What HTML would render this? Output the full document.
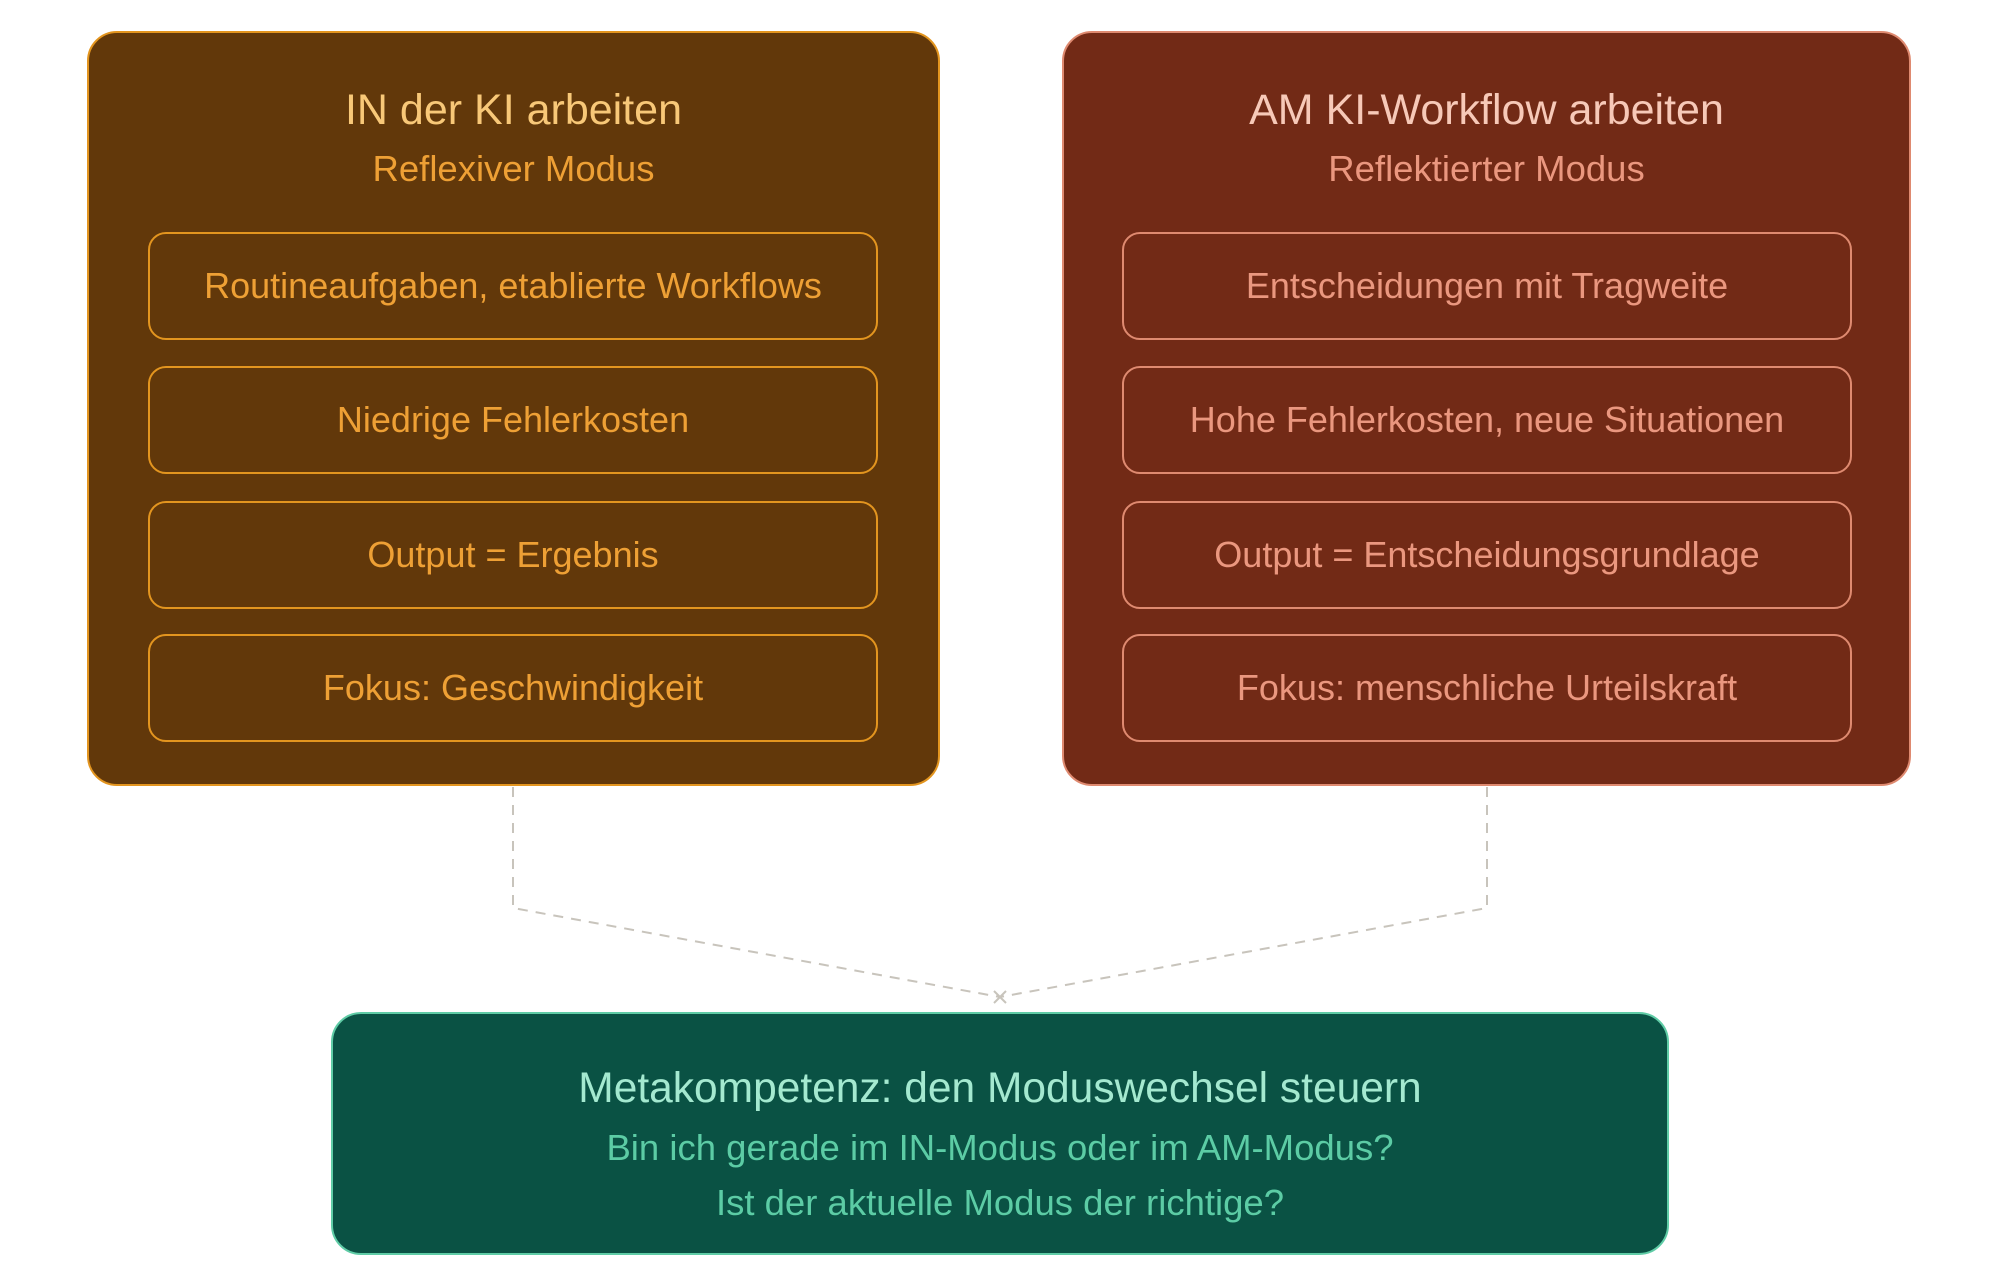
<!DOCTYPE html>
<html><head><meta charset="utf-8"><style>
html,body{margin:0;padding:0;background:#fff;width:2000px;height:1280px;overflow:hidden;font-family:"Liberation Sans",sans-serif}
.box{position:absolute;border-radius:30px;box-sizing:border-box}
.t{position:absolute;left:0;right:0;text-align:center;line-height:1;white-space:nowrap}
.item{position:absolute;border-radius:18px;box-sizing:border-box;display:flex;align-items:center;justify-content:center;font-size:36px}
</style></head><body>
<svg width="2000" height="1280" style="position:absolute;left:0;top:0">
<g stroke="#c8c4bc" stroke-width="2" stroke-dasharray="10,8" fill="none">
<path d="M513 787 L513 908 L1000 997"/>
<path d="M1487 787 L1487 908 L1000 997"/>
</g>
<path d="M994 991 L1006 1003 M1006 991 L994 1003" stroke="#c8c4bc" stroke-width="2"/>
</svg>

<div class="box" style="left:87px;top:31px;width:853px;height:755px;background:#62380a;border:2px solid #e3951f">
<div class="t" style="top:56px;font-size:43px;color:#f8c878">IN der KI arbeiten</div>
<div class="t" style="top:118px;font-size:36.5px;color:#eea035">Reflexiver Modus</div>
</div>
<div class="item" style="left:148px;top:232px;width:730px;height:108px;border:2px solid #e3951f;color:#eea035">Routineaufgaben, etablierte Workflows</div>
<div class="item" style="left:148px;top:366px;width:730px;height:108px;border:2px solid #e3951f;color:#eea035">Niedrige Fehlerkosten</div>
<div class="item" style="left:148px;top:501px;width:730px;height:108px;border:2px solid #e3951f;color:#eea035">Output = Ergebnis</div>
<div class="item" style="left:148px;top:634px;width:730px;height:108px;border:2px solid #e3951f;color:#eea035">Fokus: Geschwindigkeit</div>

<div class="box" style="left:1062px;top:31px;width:849px;height:755px;background:#722a16;border:2px solid #df8a70">
<div class="t" style="top:56px;font-size:43px;color:#f7c9b8">AM KI-Workflow arbeiten</div>
<div class="t" style="top:118px;font-size:36.5px;color:#ea977f">Reflektierter Modus</div>
</div>
<div class="item" style="left:1122px;top:232px;width:730px;height:108px;border:2px solid #df8a70;color:#ea977f">Entscheidungen mit Tragweite</div>
<div class="item" style="left:1122px;top:366px;width:730px;height:108px;border:2px solid #df8a70;color:#ea977f">Hohe Fehlerkosten, neue Situationen</div>
<div class="item" style="left:1122px;top:501px;width:730px;height:108px;border:2px solid #df8a70;color:#ea977f">Output = Entscheidungsgrundlage</div>
<div class="item" style="left:1122px;top:634px;width:730px;height:108px;border:2px solid #df8a70;color:#ea977f">Fokus: menschliche Urteilskraft</div>

<div class="box" style="left:331px;top:1012px;width:1338px;height:243px;background:#0a5244;border:2px solid #5fcca6">
<div class="t" style="top:54px;font-size:42.5px;color:#a4e9d0">Metakompetenz: den Moduswechsel steuern</div>
<div class="t" style="top:116px;font-size:36.5px;color:#5ccca5">Bin ich gerade im IN-Modus oder im AM-Modus?</div>
<div class="t" style="top:171px;font-size:36.5px;color:#5ccca5">Ist der aktuelle Modus der richtige?</div>
</div>
</body></html>
